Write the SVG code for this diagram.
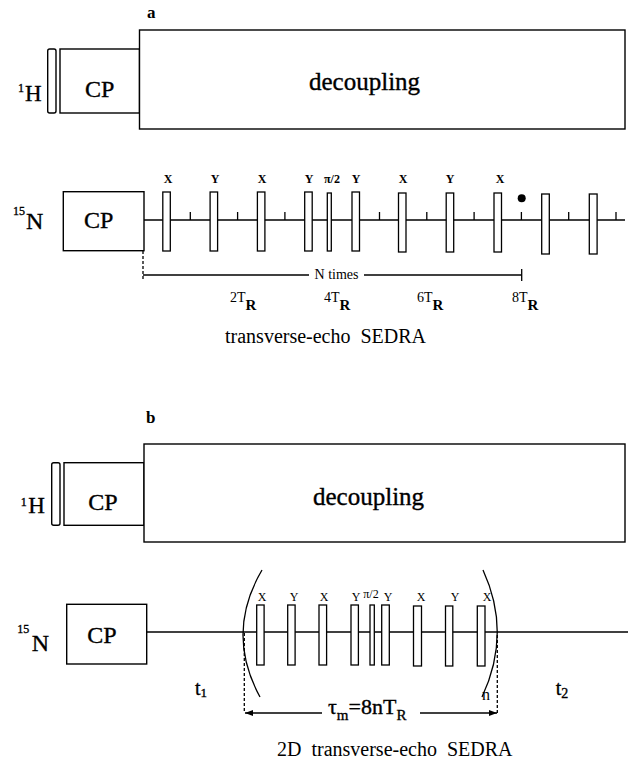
<svg xmlns="http://www.w3.org/2000/svg" width="636" height="764" viewBox="0 0 636 764">
<style>
.box{fill:#fff;stroke:#000;stroke-width:1.4}
.pulse{fill:#fff;stroke:#000;stroke-width:1.3}
.ln{stroke:#000;stroke-width:1.3;fill:none}
.dash{stroke-dasharray:3 2}
.t{font-family:"Liberation Serif","Times New Roman",serif;fill:#000}
.big{stroke:#000;stroke-width:0.35}
.lab{font-family:"Liberation Serif","Times New Roman",serif;font-size:12px;font-weight:bold;text-anchor:middle}
.labb{font-family:"Liberation Serif","Times New Roman",serif;font-size:12px;text-anchor:middle}
</style>
<defs>
<marker id="arr" markerWidth="9" markerHeight="6" refX="8" refY="3" orient="auto" markerUnits="userSpaceOnUse">
<path d="M0,0 L8,3 L0,6 z" fill="#000"/>
</marker>
</defs>
<rect width="636" height="764" fill="#fff"/>

<!-- ===== Part a ===== -->
<text class="t" x="147" y="18" font-size="17" font-weight="bold">a</text>

<g id="a-H-label"><text class="t big" x="18" y="92" font-size="12">1</text><text class="t big" x="25" y="101" font-size="23">H</text></g>
<g id="a-H-pulse"><rect class="box" x="47.7" y="49" width="8.3" height="64" rx="2"/></g>
<g id="a-H-CP"><rect class="box" x="60" y="49" width="79.5" height="64"/><text class="t big" x="85" y="97" font-size="24">CP</text></g>
<g id="a-decoupling"><rect class="box" x="139.5" y="30" width="485.5" height="99"/><text class="t big" x="309" y="90" font-size="25">decoupling</text></g>

<g id="a-N-label"><text class="t big" x="13" y="215" font-size="12">15</text><text class="t big" x="26" y="229" font-size="24">N</text></g>

<g id="a-connectors">
<line class="ln" x1="144" y1="220" x2="625" y2="220"/>
<path class="ln" d="M190.3,220v-8 M237.6,220v-8 M284.9,220v-8 M379.5,220v-8 M426.8,220v-8 M474.1,220v-8 M521.4,220v-8 M568.7,220v-8 M616,220v-8"/>
<line class="ln dash" x1="143" y1="251" x2="143" y2="280"/>
<line class="ln" x1="143" y1="275" x2="309" y2="275"/>
<line class="ln" x1="364" y1="275" x2="521.7" y2="275"/>
<line class="ln" x1="521.7" y1="269" x2="521.7" y2="281"/>
</g>

<g id="a-N-CP"><rect class="box" x="63.3" y="191.7" width="80.7" height="59"/><text class="t big" x="84" y="228" font-size="24">CP</text></g>

<g id="a-pulses">
<rect class="pulse" x="162.8" y="192" width="7.5" height="59"/>
<rect class="pulse" x="210.1" y="192" width="7.5" height="59"/>
<rect class="pulse" x="257.4" y="192" width="7.5" height="59"/>
<rect class="pulse" x="304.7" y="192" width="7.5" height="59"/>
<rect class="pulse" x="327.3" y="193" width="4" height="58"/>
<rect class="pulse" x="352" y="192" width="7.5" height="59"/>
<rect class="pulse" x="398.5" y="193" width="7.5" height="59"/>
<rect class="pulse" x="446.2" y="193" width="7.5" height="59"/>
<rect class="pulse" x="494" y="193" width="7.5" height="59"/>
<rect class="pulse" x="541.7" y="194" width="7.6" height="60"/>
<rect class="pulse" x="589.3" y="194" width="7.8" height="60"/>
<circle cx="521.7" cy="198.3" r="4" fill="#000"/>
</g>
<g id="a-pulse-labels">
<text class="lab" x="168" y="183">X</text>
<text class="lab" x="215" y="183">Y</text>
<text class="lab" x="262" y="183">X</text>
<text class="lab" x="309" y="183">Y</text>
<text class="lab" x="332" y="183">π/2</text>
<text class="lab" x="356" y="183">Y</text>
<text class="lab" x="403" y="183">X</text>
<text class="lab" x="450" y="183">Y</text>
<text class="lab" x="500" y="183">X</text>
</g>
<g id="a-ntimes"><text class="t" x="336.5" y="279" font-size="14" text-anchor="middle">N times</text></g>
<g id="a-TR-labels">
<text class="t" x="230" y="302" font-size="14">2T<tspan font-size="15" font-weight="bold" dy="8">R</tspan></text>
<text class="t" x="324" y="302" font-size="14">4T<tspan font-size="15" font-weight="bold" dy="8">R</tspan></text>
<text class="t" x="417" y="302" font-size="14">6T<tspan font-size="15" font-weight="bold" dy="8">R</tspan></text>
<text class="t" x="512" y="302" font-size="14">8T<tspan font-size="15" font-weight="bold" dy="8">R</tspan></text>
</g>
<g id="a-caption"><text class="t" x="225" y="343" font-size="20" xml:space="preserve">transverse-echo  SEDRA</text></g>

<!-- ===== Part b ===== -->
<text class="t" x="146" y="423" font-size="17" font-weight="bold">b</text>

<g id="b-H-label"><text class="t big" x="20.7" y="506" font-size="12">1</text><text class="t big" x="28.3" y="513" font-size="23">H</text></g>
<g id="b-H-pulse"><rect class="box" x="51.7" y="462.7" width="8.3" height="62.6" rx="2"/></g>
<g id="b-H-CP"><rect class="box" x="64" y="462.7" width="80" height="62.6"/><text class="t big" x="88.3" y="510" font-size="24">CP</text></g>
<g id="b-decoupling"><rect class="box" x="144" y="444" width="481" height="98"/><text class="t big" x="313" y="505" font-size="25">decoupling</text></g>

<g id="b-N-label"><text class="t big" x="17.3" y="633" font-size="12">15</text><text class="t big" x="31.7" y="650.7" font-size="24">N</text></g>

<g id="b-connectors">
<line class="ln" x1="146.7" y1="632" x2="628" y2="632"/>
<line class="ln dash" x1="244.3" y1="633" x2="244.3" y2="713"/>
<line class="ln dash" x1="497.3" y1="635" x2="497.3" y2="714"/>
<line class="ln" x1="322" y1="713" x2="245" y2="713" marker-end="url(#arr)"/>
<line class="ln" x1="420" y1="713" x2="497" y2="713" marker-end="url(#arr)"/>
<path class="ln" d="M262,570 Q225,633 260,697"/>
<path class="ln" d="M483,570 Q512,633 482,697"/>
</g>

<g id="b-N-CP"><rect class="box" x="66.7" y="604.3" width="80" height="59.7"/><text class="t big" x="87.3" y="643.3" font-size="24">CP</text></g>

<g id="b-pulses">
<rect class="pulse" x="256.7" y="605" width="7.4" height="60"/>
<rect class="pulse" x="287.7" y="605" width="7.4" height="60"/>
<rect class="pulse" x="319" y="605" width="7.6" height="60"/>
<rect class="pulse" x="351" y="605" width="7.4" height="60"/>
<rect class="pulse" x="370" y="605" width="4.3" height="60"/>
<rect class="pulse" x="381.7" y="605" width="7.6" height="60"/>
<rect class="pulse" x="413.5" y="606" width="8" height="60"/>
<rect class="pulse" x="445.5" y="606" width="7.3" height="60"/>
<rect class="pulse" x="477.3" y="606" width="7.7" height="60"/>
</g>
<g id="b-pulse-labels">
<text class="labb" x="262" y="601">X</text>
<text class="labb" x="294" y="601">Y</text>
<text class="labb" x="324" y="601">X</text>
<text class="labb" x="356" y="601">Y</text>
<text class="labb" x="371" y="598">π/2</text>
<text class="labb" x="388" y="601">Y</text>
<text class="labb" x="421" y="601">X</text>
<text class="labb" x="455" y="601">Y</text>
<text class="labb" x="487" y="601">X</text>
</g>
<g id="b-t-labels">
<text class="t big" x="195" y="695" font-size="20">t<tspan font-size="13" dy="2">1</tspan></text>
<text class="t big" x="555.7" y="695" font-size="20">t<tspan font-size="14" dy="3">2</tspan></text>
<text class="t" x="482" y="700" font-size="16">n</text>
</g>
<g id="b-taum"><text class="t big" x="328" y="714" font-size="22">τ<tspan font-size="15" dy="6">m</tspan><tspan dy="-6">=8nT</tspan><tspan font-size="15" dy="6">R</tspan></text></g>
<g id="b-caption"><text class="t" x="277" y="756" font-size="20" xml:space="preserve">2D  transverse-echo  SEDRA</text></g>
</svg>
